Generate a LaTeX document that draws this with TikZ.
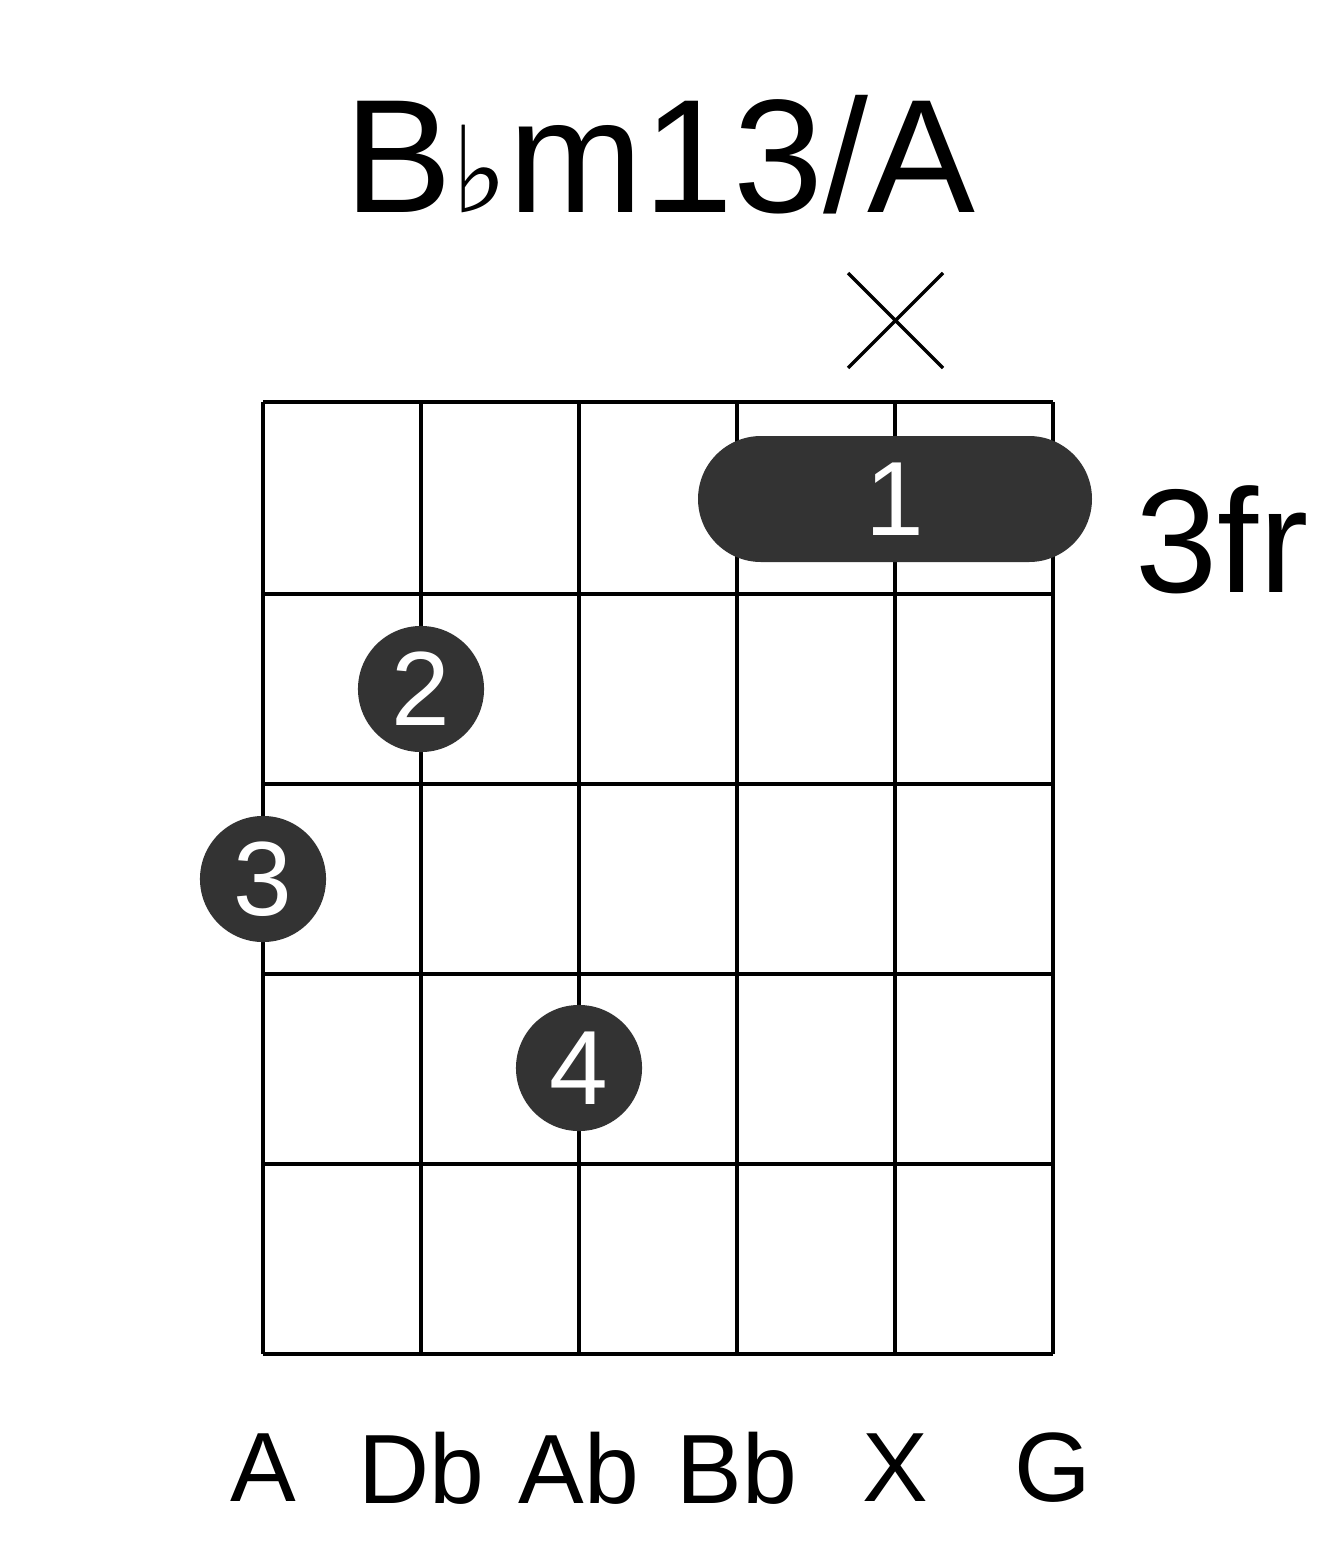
\documentclass[tikz,border=0pt]{standalone}
\usepackage{fontspec}
\setmainfont{Liberation Sans}
\newfontfamily\symfont{DejaVu Sans}
\tikzset{
  fretline/.style = {line width=0.04cm, black},
  fingerdot/.style = {circle, fill=black!80, minimum size=1.26cm, inner sep=0pt,
                      text=white, font=\fontsize{30}{30}\selectfont},
  strname/.style = {font=\fontsize{28}{28}\selectfont}
}
\begin{document}
\begin{tikzpicture}[x=0.01cm,y=-0.01cm]
\useasboundingbox (0,0) rectangle (1317,1551);
% grid
\foreach \sx in {263,421,579,737,895,1053}
  \draw[fretline] (\sx,402) -- (\sx,1354);
\foreach \fy in {402,594,784,974,1164,1354}
  \draw[fretline] (263,\fy) -- (1053,\fy);
% title and fret number
\node (title) at (660,155) {\fontsize{46}{46}\selectfont B{\symfont\fontsize{34}{34}\selectfont ♭}m13/A};
\node (fr) at (1222,540) {\fontsize{42}{42}\selectfont 3fr};
% muted string
\coordinate (xa) at (848,273);
\coordinate (xb) at (943,368);
\coordinate (xc) at (943,273);
\coordinate (xd) at (848,368);
\draw[line width=0.035cm] (xa) -- (xb) (xc) -- (xd);
% barre
\fill[black!80, rounded corners=0.63cm] (698,436) rectangle (1092,562);
\node[text=white, font=\fontsize{30}{30}\selectfont] (b1) at (895,499) {1};
% fingers
\node[fingerdot] (f2) at (421,689) {2};
\node[fingerdot] (f3) at (263,879) {3};
\node[fingerdot] (f4) at (579,1068) {4};
% string names
\foreach \sx/\nm in {263/A,421/Db,579/Ab,737/Bb,895/X,1053/G}
  \node[strname] at (\sx,1468) {\nm};
\end{tikzpicture}
\end{document}
